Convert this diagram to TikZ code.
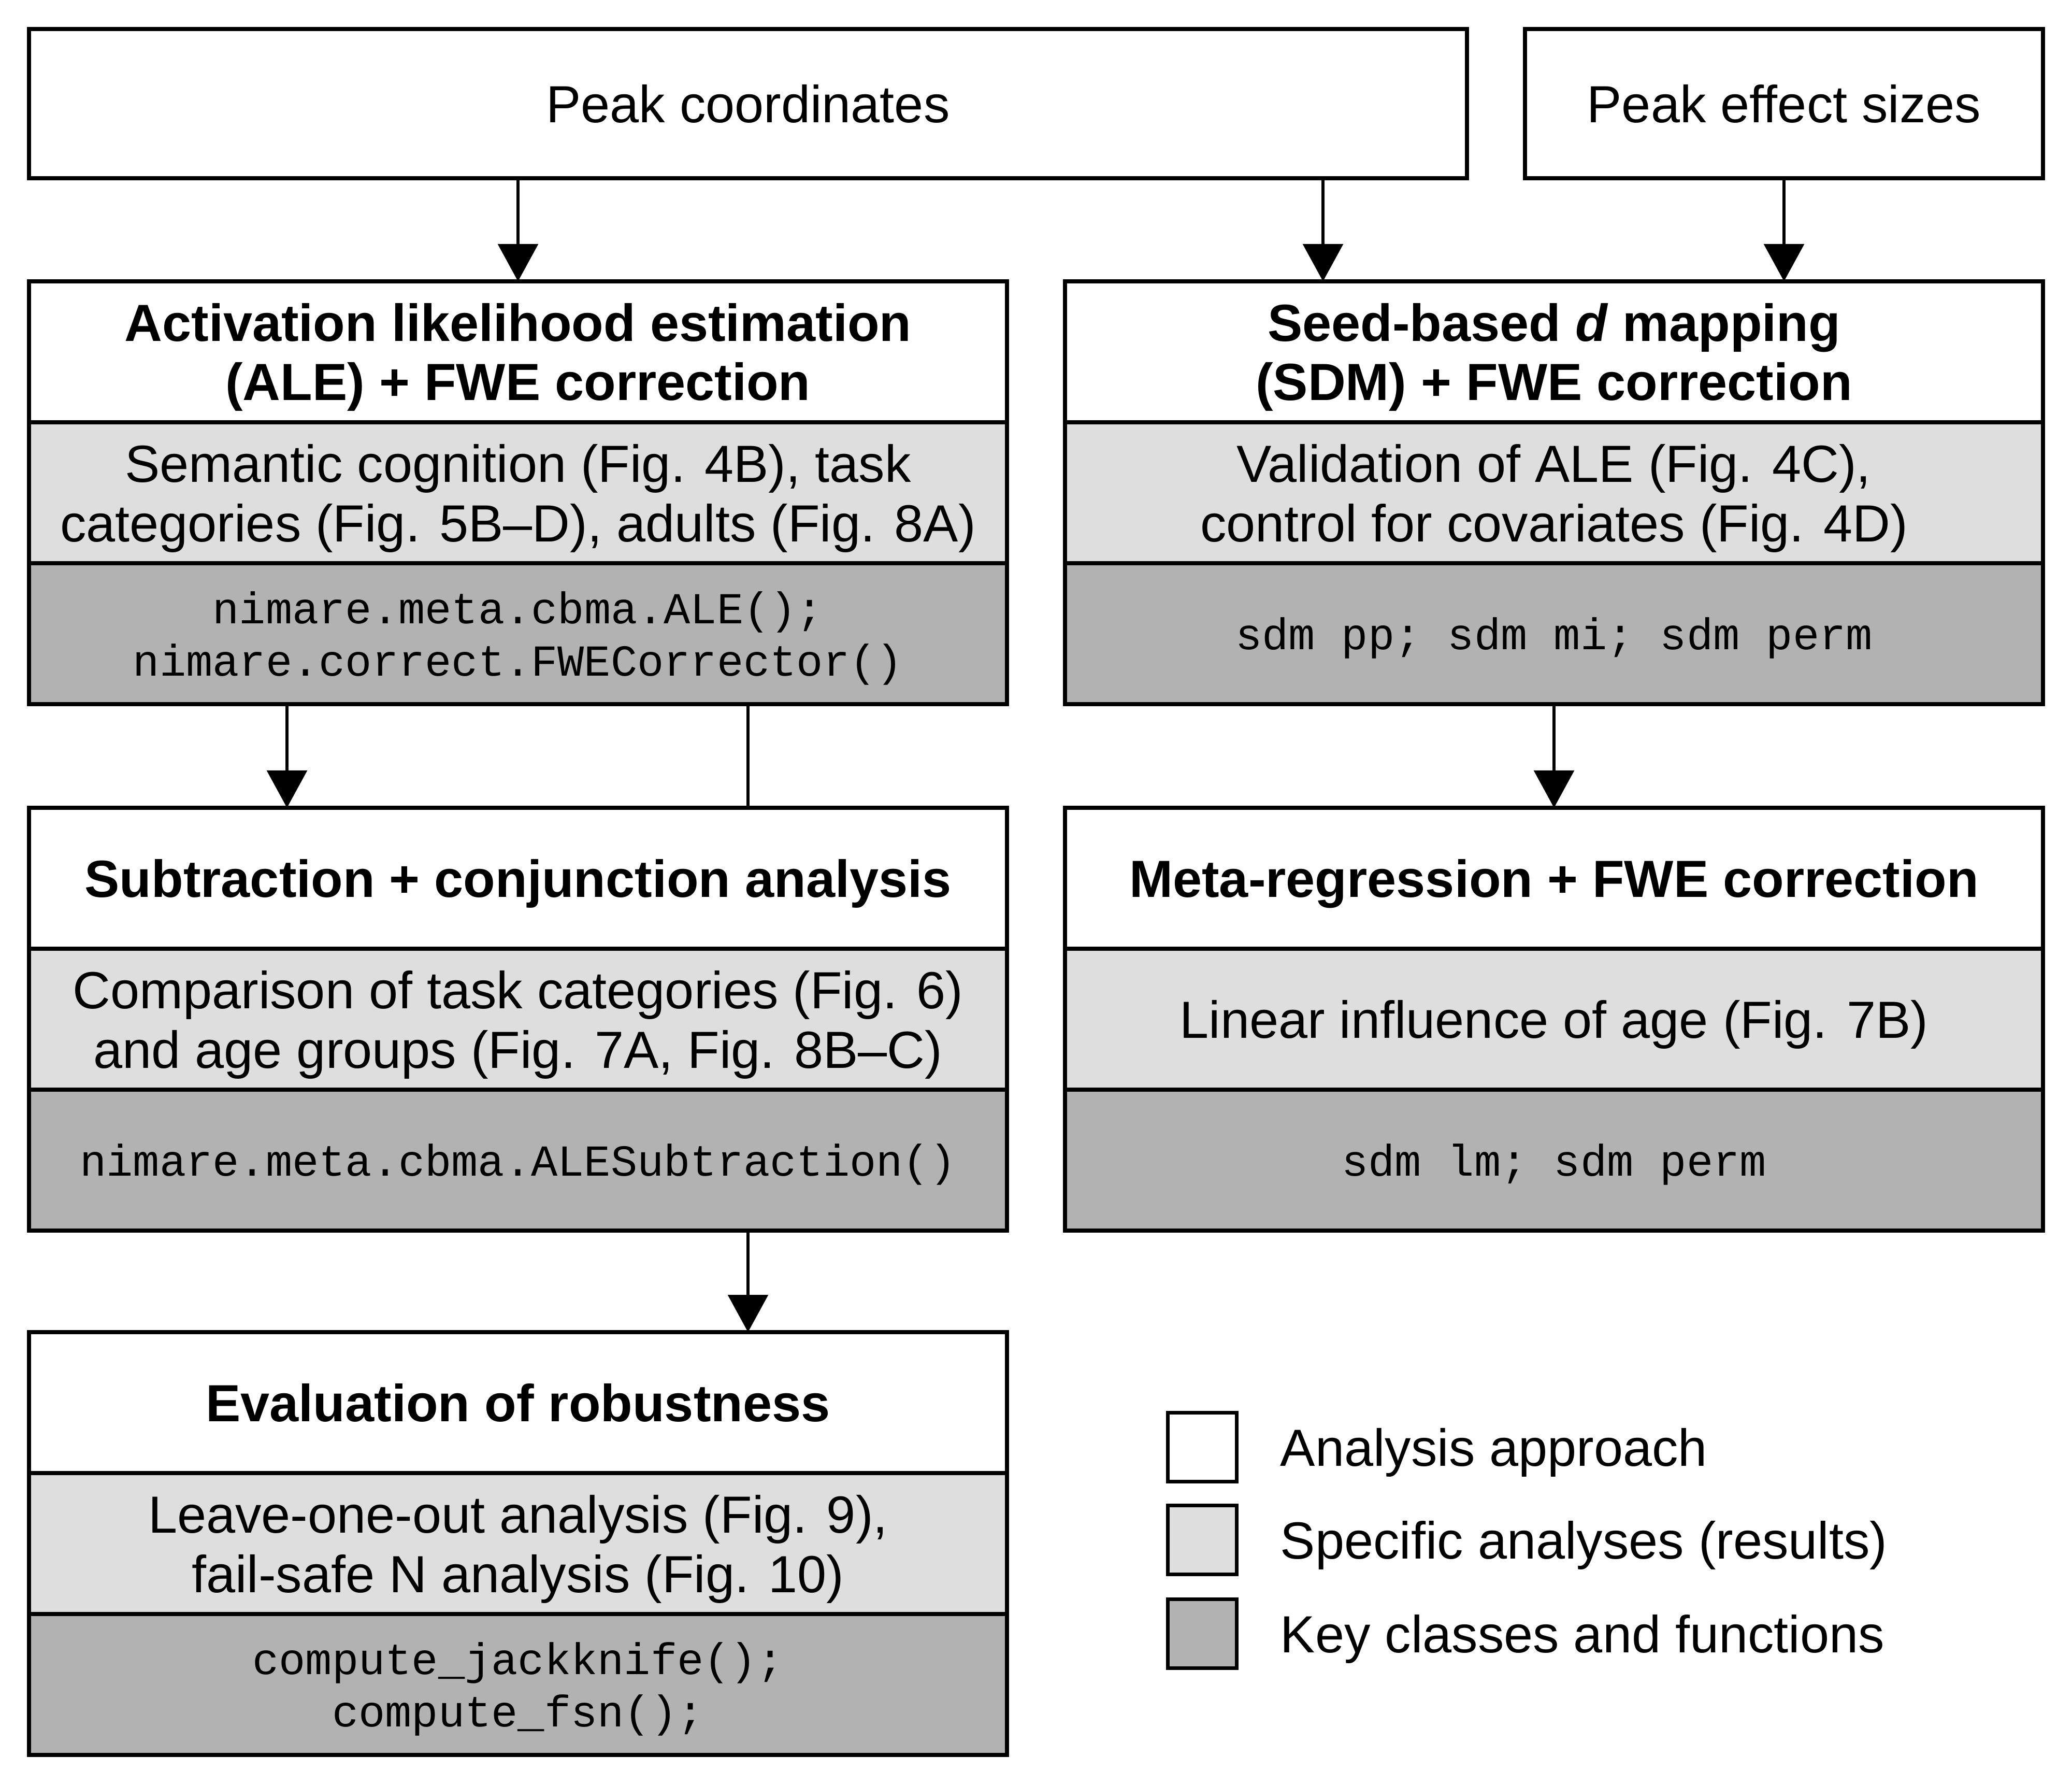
\documentclass[tikz,border=0pt]{standalone}
\usepackage{fontspec}
\setmainfont{Liberation Sans}
\setmonofont{Liberation Mono}
\usepackage{xcolor}
\definecolor{resgray}{HTML}{DEDEDE}
\definecolor{codegray}{HTML}{B2B2B2}
\usepackage{tikz}
\usetikzlibrary{arrows.meta,positioning}

\newcommand{\txtsize}{\fontsize{28.7}{32.7}\selectfont}
\newcommand{\codesize}{\fontsize{24.3}{28.5}\selectfont}

\begin{document}
\begin{tikzpicture}[
    part/.style={draw,line width=2.1pt,outer sep=0pt,inner sep=0pt,text depth=0pt,
      minimum width=18.88cm,minimum height=2.72cm,align=center,font=\txtsize},
    headbox/.style={part,fill=white,font=\txtsize\bfseries},
    resbox/.style={part,fill=resgray},
    codebox/.style={part,fill=codegray,font=\codesize\ttfamily},
    legbox/.style={draw,line width=2.1pt,minimum size=1.33cm,inner sep=0pt},
    legtext/.style={inner sep=0pt,font=\txtsize,anchor=west,text depth=0pt},
    arr/.style={line width=1.7pt,-{Triangle[length=0.72cm,width=0.77cm]}},
    link/.style={line width=1.7pt}]
  \useasboundingbox (0,0) rectangle (40,-34.45);
  % input boxes
  \node[part,anchor=north west,minimum width=27.76cm,minimum height=2.88cm] (coords) at (0.56,-0.56) {Peak coordinates};
  \node[part,anchor=north west,minimum width=10cm,minimum height=2.88cm] (effects) at (29.44,-0.56) {Peak effect sizes};
  % ALE column
  \node[headbox,anchor=north west] (aleHead) at (0.56,-5.43) {Activation likelihood estimation\\(ALE) + FWE correction};
  \node[resbox,below=0pt of aleHead] (aleRes) {Semantic cognition (Fig. 4B), task\\categories (Fig. 5B--D), adults (Fig. 8A)};
  \node[codebox,below=0pt of aleRes] (aleCode) {nimare.meta.cbma.ALE();\\nimare.correct.FWECorrector()};
  \node[headbox,anchor=north west] (subHead) at (0.56,-15.59) {Subtraction + conjunction analysis};
  \node[resbox,below=0pt of subHead] (subRes) {Comparison of task categories (Fig. 6)\\and age groups (Fig. 7A, Fig. 8B--C)};
  \node[codebox,below=0pt of subRes] (subCode) {nimare.meta.cbma.ALESubtraction()};
  \node[headbox,anchor=north west] (robHead) at (0.56,-25.71) {Evaluation of robustness};
  \node[resbox,below=0pt of robHead] (robRes) {Leave-one-out analysis (Fig. 9),\\fail-safe N analysis (Fig. 10)};
  \node[codebox,below=0pt of robRes] (robCode) {compute\_jackknife();\\compute\_fsn();};
  % SDM column
  \node[headbox,anchor=north west] (sdmHead) at (20.56,-5.43) {Seed-based \textit{d} mapping\\(SDM) + FWE correction};
  \node[resbox,below=0pt of sdmHead] (sdmRes) {Validation of ALE (Fig. 4C),\\control for covariates (Fig. 4D)};
  \node[codebox,below=0pt of sdmRes] (sdmCode) {sdm pp; sdm mi; sdm perm};
  \node[headbox,anchor=north west] (metaHead) at (20.56,-15.59) {Meta-regression + FWE correction};
  \node[resbox,below=0pt of metaHead] (metaRes) {Linear influence of age (Fig. 7B)};
  \node[codebox,below=0pt of metaRes] (metaCode) {sdm lm; sdm perm};
  % connectors
  \coordinate (sdmIn) at ([xshift=4.98cm]sdmHead.north west);
  \coordinate (subIn) at ([xshift=4.98cm]subHead.north west);
  \coordinate (subPass) at ([xshift=-5cm]subHead.north east);
  \draw[arr] (coords.south -| aleHead.north) -- (aleHead.north);
  \draw[arr] (coords.south -| sdmIn) -- (sdmIn);
  \draw[arr] (effects.south) -- (effects.south |- sdmHead.north);
  \draw[arr] (aleCode.south -| subIn) -- (subIn);
  \draw[link] (aleCode.south -| subPass) -- (subPass);
  \draw[arr] (subCode.south -| subPass) -- (robHead.north -| subPass);
  \draw[arr] (sdmCode.south) -- (metaHead.north);
  % legend
  \node[legbox,fill=white] (legApp) at (23.21,-27.93) {};
  \node[legbox,fill=resgray] (legRes) at (23.21,-29.72) {};
  \node[legbox,fill=codegray] (legCode) at (23.21,-31.53) {};
  \node[legtext,right=0.8cm of legApp] (legAppTxt) {Analysis approach};
  \node[legtext,right=0.8cm of legRes] (legResTxt) {Specific analyses (results)};
  \node[legtext,right=0.8cm of legCode] (legCodeTxt) {Key classes and functions};
\end{tikzpicture}
\end{document}
